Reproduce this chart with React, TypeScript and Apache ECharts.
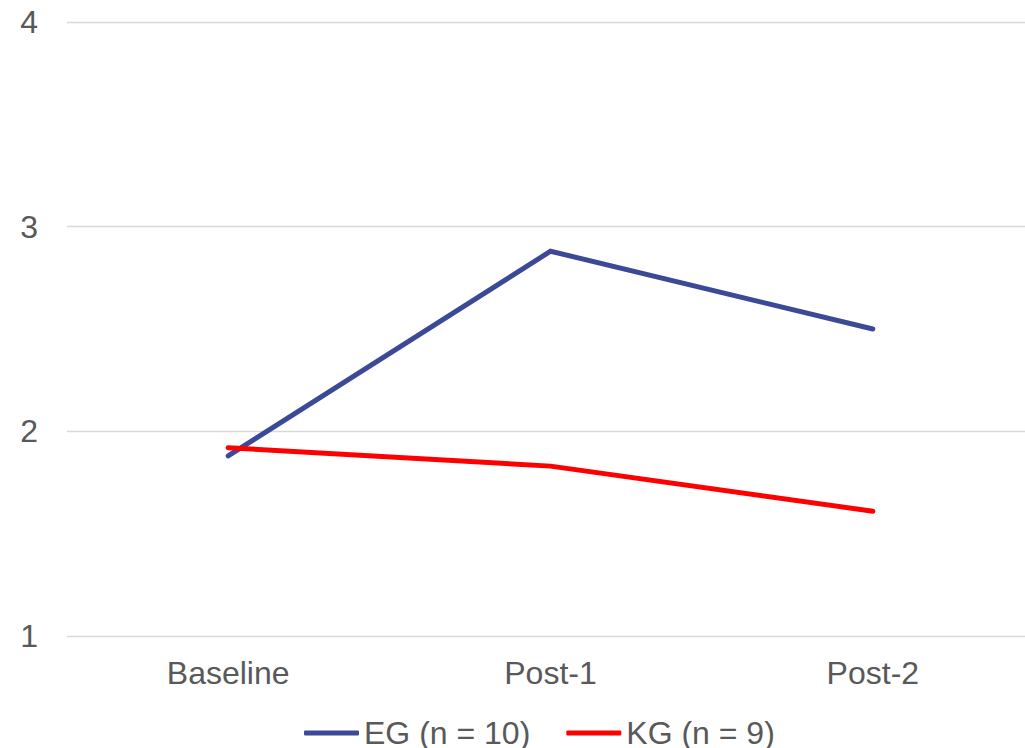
import React, { useEffect, useRef } from "react";
import * as echarts from "echarts";

// Time points and group means
const categories = ["Baseline", "Post-1", "Post-2"];
const egValues = [1.88, 2.88, 2.5];
const kgValues = [1.92, 1.83, 1.61];
const seriesNames = ["EG (n = 10)", "KG (n = 9)"];
const seriesColors = ["#3B4996", "#FF0000"];

const TEXT_COLOR = "#595959";
const FONT = "Arial, 'Liberation Sans', sans-serif";
const FONT_SIZE = 32;

export default function App() {
  const ref = useRef<HTMLDivElement>(null);

  useEffect(() => {
    if (!ref.current) return;
    const chart = echarts.init(ref.current, undefined, { renderer: "svg" });
    const makeSeries = (name: string, data: number[], color: string) => ({
      name,
      type: "line",
      data,
      symbol: "none",
      showSymbol: false,
      lineStyle: { color, width: 5, cap: "round", join: "miter" },
      itemStyle: { color },
    });
    chart.setOption({
      animation: false,
      backgroundColor: "#ffffff",
      textStyle: { fontFamily: FONT },
      grid: { left: 67, top: 22, width: 967, bottom: 112, containLabel: false },
      xAxis: {
        type: "category",
        data: categories,
        boundaryGap: true,
        axisLine: { show: false },
        axisTick: { show: false },
        axisLabel: {
          color: TEXT_COLOR,
          fontSize: FONT_SIZE,
          fontFamily: FONT,
          margin: 21,
        },
      },
      yAxis: {
        type: "value",
        min: 1,
        max: 4,
        interval: 1,
        axisLine: { show: false },
        axisTick: { show: false },
        splitLine: { lineStyle: { color: "#D9D9D9", width: 1.3 } },
        axisLabel: {
          color: TEXT_COLOR,
          fontSize: FONT_SIZE,
          fontFamily: FONT,
          margin: 29,
        },
      },
      legend: {
        data: seriesNames.map((name) => ({ name, icon: "roundRect" })),
        left: 304,
        top: 717,
        padding: 0,
        itemWidth: 55,
        itemHeight: 5,
        itemGap: 36,
        textStyle: { color: TEXT_COLOR, fontSize: FONT_SIZE, fontFamily: FONT },
      },
      series: [
        makeSeries(seriesNames[0], egValues, seriesColors[0]),
        makeSeries(seriesNames[1], kgValues, seriesColors[1]),
      ],
    });
    return () => chart.dispose();
  }, []);

  return (
    <div
      style={{ position: "fixed", left: 0, top: 0, width: 1025, height: 748, overflow: "hidden", background: "#fff" }}
    >
      <div ref={ref} style={{ width: 1045, height: 748 }} />
    </div>
  );
}
